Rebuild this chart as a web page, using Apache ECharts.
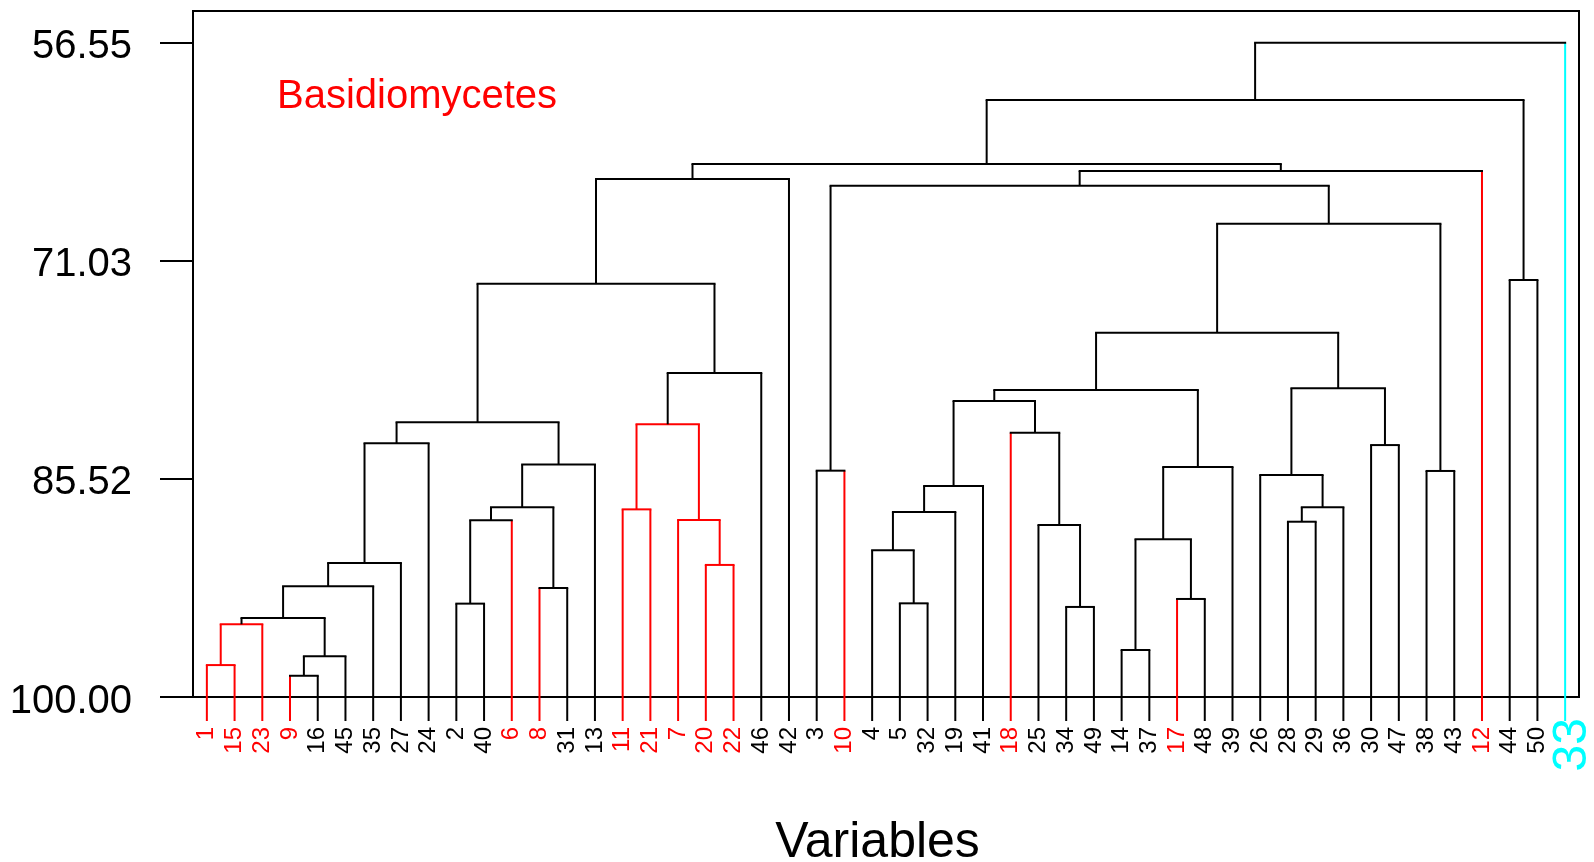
<!DOCTYPE html>
<html>
<head>
<meta charset="utf-8">
<script src="https://cdn.jsdelivr.net/npm/echarts@6/dist/echarts.min.js"></script>
<style>
  html, body { margin: 0; padding: 0; background: #ffffff; }
  #chart { width: 1594px; height: 862px; }
</style>
</head>
<body>
<div id="chart"></div>
<script>
// ---- Data ----
const leafOrder = [1,15,23,9,16,45,35,27,24,2,40,6,8,31,13,11,21,7,20,22,46,42,3,10,4,5,32,19,41,18,25,34,49,14,37,17,48,39,26,28,29,36,30,47,38,43,12,44,50,33];
const redLeaves = [1,15,23,9,6,8,11,21,7,20,22,10,18,17,12];
const cyanLeaves = [33];
// Merge steps: children are leaf labels (numbers) or earlier merges ('n<index>')
const mergeLeft  = [1,'n0',9,'n2','n1','n4','n5','n6',2,'n8',8,'n9','n11','n7',11,20,7,'n14','n17','n13','n19',3,5,4,'n23','n24',34,25,18,'n25',14,17,'n30','n32','n29',28,'n35',26,30,'n37','n34',38,'n40','n21','n43','n20',44,'n45','n47'];
const mergeRight = [15,23,16,45,'n3',35,27,24,40,6,31,'n10',13,'n12',21,22,'n15','n16',46,'n18',42,10,32,'n22',19,41,49,'n26','n27','n28',37,48,'n31',39,'n33',29,36,'n36',47,'n38','n39',43,'n41','n42',12,'n44',50,'n46',33];
const mergeSimilarity = [97.88,95.17,98.59,97.30,94.75,92.65,91.10,83.15,93.80,88.27,92.76,87.40,84.56,81.76,87.54,91.23,88.25,81.89,78.48,72.55,65.60,84.97,93.78,90.26,87.71,85.99,94.02,88.58,82.45,80.34,96.88,93.49,89.53,84.73,79.61,88.36,87.40,85.26,83.27,79.50,75.81,84.99,68.57,66.05,65.07,64.61,72.31,60.36,56.55];
const yTicks = [56.55, 71.03, 85.52, 100.00];
const leafLevel = 100;
const groupLabel = 'Basidiomycetes';
const xTitle = 'Variables';

// ---- Styles ----
const BLACK = '#000000', RED = '#FF0000', CYAN = '#00FFFF';
const FONT = "'Liberation Sans', Arial, Helvetica, sans-serif";
const LW = 2;
const STEM_EXT = 24; // px the leaf stems extend below the frame

// ---- Tree geometry (in data units) ----
function isNode(c) { return typeof c === 'string'; }
function nodeIdx(c) { return parseInt(c.slice(1), 10); }
const nodeX = [], nodeRed = [];
function childX(c) { return isNode(c) ? nodeX[nodeIdx(c)] : leafOrder.indexOf(c); }
function childRed(c) { return isNode(c) ? nodeRed[nodeIdx(c)] : redLeaves.indexOf(c) >= 0; }
function childH(c) { return isNode(c) ? mergeSimilarity[nodeIdx(c)] : leafLevel; }
for (let i = 0; i < mergeSimilarity.length; i++) {
  nodeX[i] = (childX(mergeLeft[i]) + childX(mergeRight[i])) / 2;
  nodeRed[i] = childRed(mergeLeft[i]) && childRed(mergeRight[i]);
}
function leafColor(l) {
  if (cyanLeaves.indexOf(l) >= 0) return CYAN;
  if (redLeaves.indexOf(l) >= 0) return RED;
  return BLACK;
}

const chart = echarts.init(document.getElementById('chart'));

function renderItem(params, api) {
  const i = params.dataIndex;
  const c0 = api.coord([0, leafLevel]);
  const c1 = api.coord([1, leafLevel]);
  const step = c1[0] - c0[0];
  const px = (xf) => c0[0] + xf * step;
  const py = (v) => api.coord([0, v])[1];
  const yNode = py(api.value(1));
  const children = [];
  const kids = [mergeLeft[i], mergeRight[i]];
  kids.forEach(function (c) {
    const x = px(childX(c));
    let y0, col;
    if (isNode(c)) {
      y0 = py(childH(c));
      col = nodeRed[i] ? RED : BLACK;
    } else {
      y0 = py(leafLevel) + STEM_EXT;
      col = leafColor(c);
    }
    children.push({
      type: 'line',
      shape: { x1: x, y1: y0, x2: x, y2: yNode },
      style: { stroke: col, lineWidth: LW }
    });
  });
  const xl = px(childX(kids[0])), xr = px(childX(kids[1]));
  children.push({
    type: 'line',
    shape: { x1: xl, y1: yNode, x2: xr, y2: yNode },
    style: { stroke: nodeRed[i] ? RED : BLACK, lineWidth: LW, lineCap: 'square' }
  });
  return { type: 'group', children: children };
}

const option = {
  backgroundColor: '#ffffff',
  animation: false,
  grid: {
    left: 193, right: 15, top: 11, bottom: 165,
    outerBoundsMode: 'none',
    containLabel: false,
    show: true, borderColor: BLACK, borderWidth: 2, backgroundColor: 'transparent'
  },
  xAxis: {
    type: 'category',
    data: leafOrder.map(String),
    boundaryGap: true,
    axisLine: { show: false },
    axisTick: { show: false },
    splitLine: { show: false },
    axisLabel: {
      interval: 0,
      rotate: 90,
      margin: 21,
      fontFamily: FONT,
      formatter: function (v) {
        const l = parseInt(v, 10);
        const cls = cyanLeaves.indexOf(l) >= 0 ? 'c' : (redLeaves.indexOf(l) >= 0 ? 'r' : 'k');
        return '{' + cls + '|' + v + '}';
      },
      rich: {
        k: { color: BLACK, fontSize: 24, fontFamily: FONT, padding: [0, 9, 0, 0] },
        r: { color: RED, fontSize: 24, fontFamily: FONT, padding: [0, 9, 0, 0] },
        c: { color: CYAN, fontSize: 48, fontFamily: FONT, padding: [16, 0, 0, 0] }
      }
    },
    name: xTitle,
    nameLocation: 'middle',
    nameGap: 121,
    nameTextStyle: { fontSize: 50, color: BLACK, fontFamily: FONT, padding: [0, 17, 0, 0] }
  },
  yAxis: {
    type: 'value',
    inverse: true,
    min: 54.445,
    max: 100,
    axisLine: { show: true, lineStyle: { color: BLACK, width: 2 } },
    axisTick: { show: true, length: 33, lineStyle: { color: BLACK, width: 2 }, customValues: yTicks },
    axisLabel: {
      customValues: yTicks,
      formatter: function (v) { return '{t|' + Number(v).toFixed(2) + '}'; },
      margin: 61,
      rich: {
        t: { fontSize: 40, color: BLACK, fontFamily: FONT, padding: [9, 0, 0, 0] }
      }
    },
    splitLine: { show: false }
  },
  graphic: [{
    type: 'text',
    left: 277,
    top: 77,
    style: { text: groupLabel, fill: RED, fontSize: 40, fontFamily: FONT }
  }],
  series: [{
    type: 'custom',
    coordinateSystem: 'cartesian2d',
    clip: false,
    silent: true,
    renderItem: renderItem,
    encode: { x: 0, y: 1 },
    data: mergeSimilarity.map(function (s, i) { return [nodeX[i], s]; })
  }]
};
chart.setOption(option);
</script>
</body>
</html>
